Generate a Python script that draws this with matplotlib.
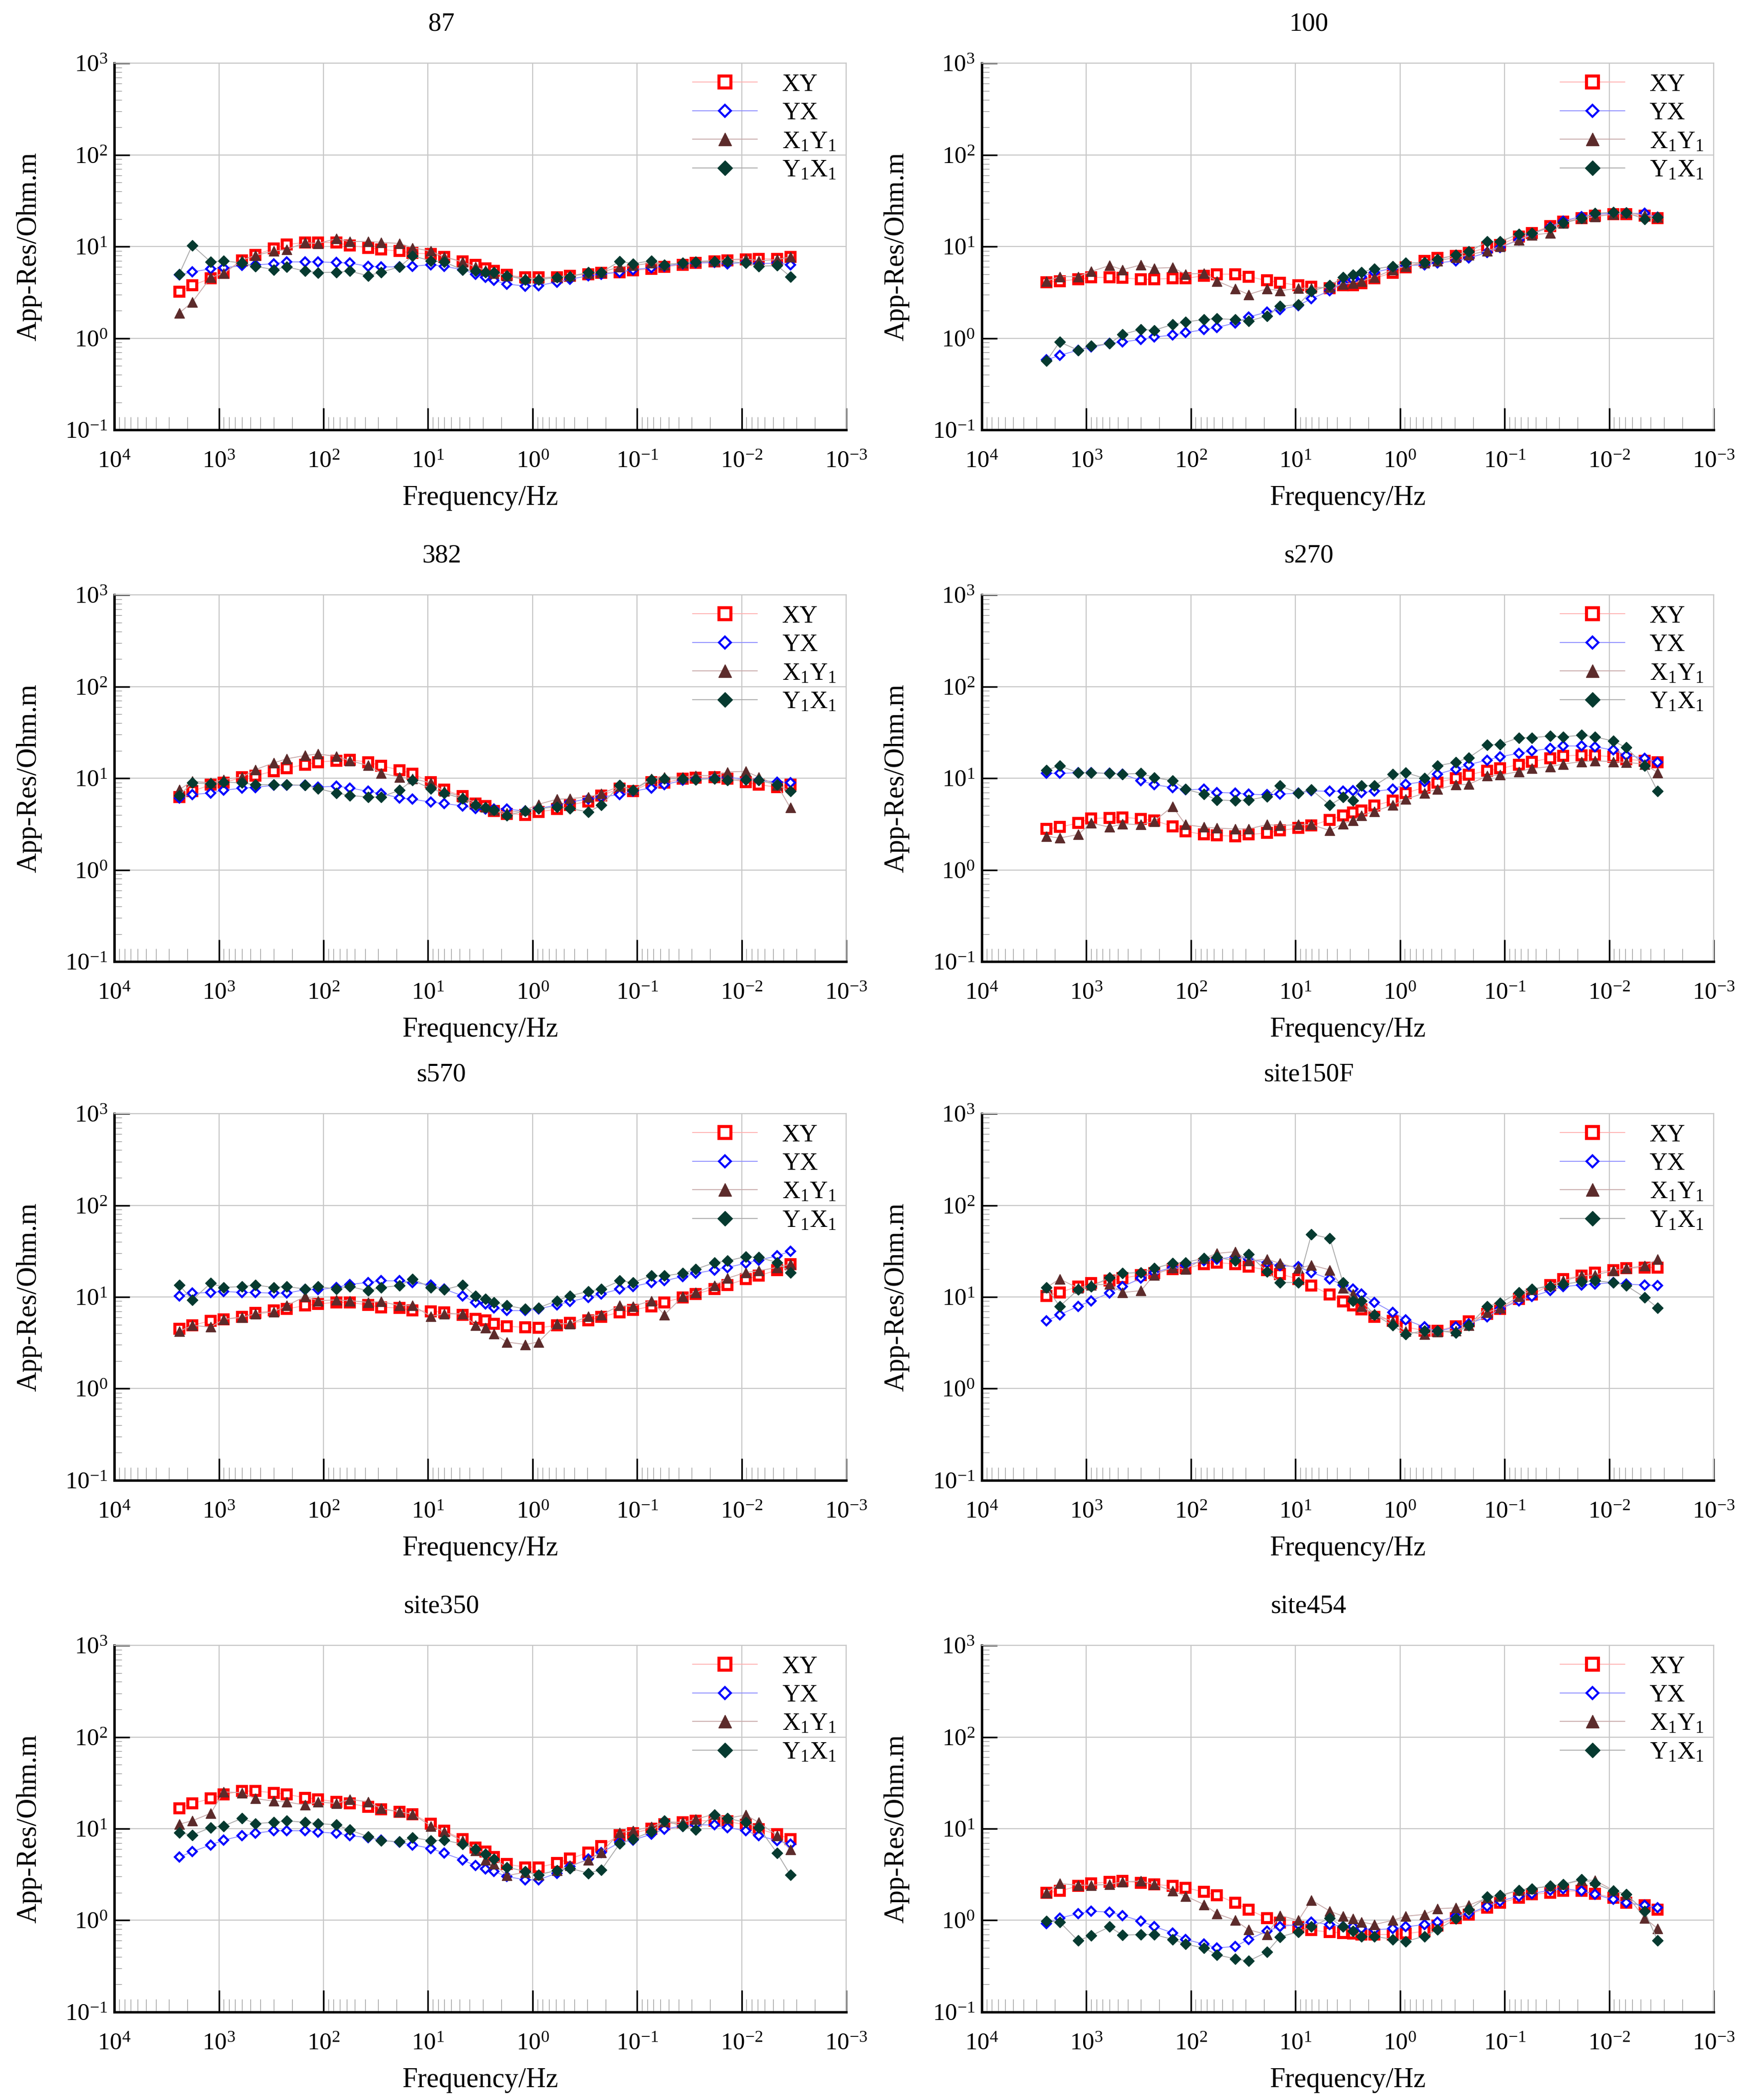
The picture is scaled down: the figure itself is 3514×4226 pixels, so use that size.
import matplotlib
matplotlib.use("Agg")
import matplotlib.pyplot as plt
from matplotlib.ticker import LogLocator, LogFormatterSciNotation, NullFormatter

plt.rcParams['font.family'] = ['Liberation Serif', 'DejaVu Serif']
plt.rcParams['mathtext.fontset'] = 'custom'
plt.rcParams['mathtext.rm'] = 'Liberation Serif'
plt.rcParams['mathtext.it'] = 'Liberation Serif:italic'
plt.rcParams['mathtext.bf'] = 'Liberation Serif:bold'

# frequencies (Hz), same for every site
freq = [2400, 1800, 1200, 900, 600, 450, 300, 225, 150, 112.5, 75, 56.25, 37.5, 28.13,
        18.75, 14.06, 9.375, 7.031, 4.688, 3.516, 2.813, 2.344, 1.758, 1.172, 0.8789,
        0.5859, 0.4395, 0.293, 0.2197, 0.1465, 0.1099, 0.07324, 0.05493, 0.03662,
        0.02747, 0.01831, 0.01373, 0.009155, 0.006866, 0.004578, 0.003433]

# site 87
xy_87 = [3.2, 3.76, 4.5, 5.2, 7.1, 8.1, 9.5, 10.5, 11.1, 11.1, 11.0, 10.3, 9.7, 9.3, 8.9, 8.5, 8.3, 7.7, 6.9, 6.3, 5.8,
         5.4, 4.9, 4.6, 4.6, 4.6, 4.8, 5.0, 5.15, 5.25, 5.5, 5.7, 6.0, 6.35, 6.6, 6.9, 7.1, 7.2, 7.35, 7.35, 7.7]
yx_87 = [4.9, 5.3, 5.7, 5.85, 6.2, 6.3, 6.5, 6.8, 6.8, 6.8, 6.7, 6.6, 6.1, 6.0, 6.0, 6.1, 6.35, 6.1, 5.6, 5.0, 4.6,
         4.26, 3.9, 3.7, 3.75, 4.1, 4.4, 4.8, 5.0, 5.25, 5.6, 5.85, 6.1, 6.5, 6.6, 6.7, 6.5, 6.7, 6.5, 6.6, 6.35]
x1y1_87 = [1.88, 2.47, 4.6, 5.1, 7.1, 8.0, 8.9, 9.3, 11.0, 10.8, 12.2, 11.3, 11.4, 11.1, 10.8, 9.7, 8.9, 7.7, 6.8, 6.0,
           5.5, 5.1, 4.8, 4.5, 4.5, 4.7, 4.8, 5.1, 5.25, 6.0, 6.2, 6.6, 6.35, 6.6, 6.9, 7.0, 7.2, 7.35, 7.0, 7.2, 7.7]
y1x1_87 = [5.0, 10.3, 6.8, 7.0, 6.6, 6.1, 5.6, 6.0, 5.4, 5.2, 5.25, 5.4, 4.8, 5.25, 6.0, 7.9, 7.0, 6.8, 5.6, 5.4, 5.25,
           5.25, 4.8, 4.35, 4.35, 4.6, 4.7, 5.25, 5.25, 6.9, 6.5, 7.0, 6.35, 6.6, 6.8, 6.9, 6.9, 6.6, 6.1, 6.2, 4.7]

# site 100
xy_100 = [4.1, 4.2, 4.4, 4.6, 4.6, 4.55, 4.4, 4.4, 4.5, 4.5, 4.8, 5.0, 5.0, 4.7, 4.26, 4.05, 3.76, 3.65, 3.53, 3.76,
          3.8, 4.0, 4.5, 5.2, 5.9, 7.0, 7.5, 7.9, 8.5, 9.8, 10.4, 12.9, 14.0, 16.8, 18.8, 20.3, 21.6, 22.5, 22.5, 21.6, 20.3]
yx_100 = [0.58, 0.65, 0.74, 0.8, 0.875, 0.91, 0.97, 1.03, 1.08, 1.15, 1.24, 1.31, 1.47, 1.7, 1.93, 2.05, 2.28, 2.7,
          3.3, 4.0, 4.35, 4.7, 5.25, 5.8, 6.2, 6.3, 6.6, 7.0, 7.5, 8.6, 9.8, 11.8, 13.7, 16.4, 19.0, 21.3, 22.5, 23.0,
          23.0, 23.0, 20.8]
x1y1_100 = [4.2, 4.7, 4.7, 5.35, 6.2, 5.6, 6.3, 5.8, 5.9, 5.0, 5.1, 4.2, 3.46, 3.0, 3.46, 3.3, 3.5, 3.5, 3.6, 3.9,
            4.0, 4.2, 4.6, 5.6, 6.1, 6.6, 7.0, 7.6, 8.1, 9.0, 10.0, 11.8, 13.4, 14.0, 17.9, 20.3, 21.2, 22.5, 23.5,
            22.0, 20.8]
y1x1_100 = [0.565, 0.91, 0.74, 0.82, 0.875, 1.1, 1.25, 1.22, 1.41, 1.5, 1.6, 1.63, 1.6, 1.54, 1.74, 2.23, 2.33, 3.25,
            3.76, 4.6, 4.9, 5.25, 5.7, 6.1, 6.6, 6.7, 7.2, 8.1, 8.8, 11.3, 11.3, 13.7, 14.0, 16.1, 18.2, 20.3, 23.0,
            23.7, 23.5, 19.9, 20.8]

# site 382
xy_382 = [6.25, 7.2, 8.5, 8.9, 10.3, 10.7, 11.9, 12.9, 14.1, 15.0, 15.6, 15.9, 15.0, 13.7, 12.3, 11.2, 9.1, 7.5, 6.4,
          5.3, 5.0, 4.4, 4.1, 4.0, 4.3, 4.6, 5.1, 5.6, 6.5, 7.7, 7.2, 9.1, 8.9, 9.9, 10.1, 10.3, 9.9, 9.1, 8.5, 8.0, 8.5]
yx_382 = [6.1, 6.65, 6.9, 7.4, 7.8, 7.95, 8.4, 8.4, 8.4, 8.0, 8.2, 7.85, 7.2, 6.8, 6.1, 5.9, 5.5, 5.3, 5.0, 4.67, 4.6,
          4.6, 4.6, 4.4, 4.67, 5.1, 5.5, 5.95, 6.25, 6.65, 7.2, 7.85, 8.5, 9.5, 9.8, 10.0, 10.3, 9.7, 9.5, 9.1, 9.0]
x1y1_382 = [7.5, 9.3, 8.9, 9.7, 10.3, 12.4, 14.7, 16.3, 17.7, 18.4, 17.3, 15.6, 13.8, 11.4, 10.3, 9.9, 8.9, 7.2, 6.25,
            5.4, 4.87, 4.5, 4.2, 4.5, 5.2, 5.9, 6.0, 6.25, 6.8, 8.2, 7.5, 9.9, 10.3, 10.3, 10.7, 10.7, 11.7, 11.9,
            10.3, 8.4, 4.77]
y1x1_382 = [6.5, 8.9, 8.7, 9.1, 8.9, 8.5, 8.5, 8.5, 8.4, 7.7, 6.9, 6.5, 6.25, 6.25, 7.4, 9.5, 7.7, 6.9, 6.0, 5.1, 4.77,
            4.5, 3.95, 4.4, 4.67, 4.87, 4.67, 4.3, 5.1, 8.4, 7.4, 9.7, 9.9, 9.9, 9.7, 9.9, 9.5, 9.7, 9.5, 8.5, 7.2]

# site s270
xy_s270 = [2.79, 2.93, 3.25, 3.64, 3.7, 3.76, 3.6, 3.46, 3.0, 2.64, 2.43, 2.38, 2.33, 2.43, 2.53, 2.69, 2.86, 3.05,
           3.53, 3.92, 4.23, 4.44, 5.03, 5.7, 6.9, 7.95, 9.0, 10.0, 10.9, 12.1, 12.8, 14.1, 15.2, 16.5, 17.5, 17.9,
           17.7, 17.2, 16.1, 15.5, 14.9]
yx_s270 = [11.3, 11.3, 11.5, 11.5, 11.3, 11.1, 9.4, 8.5, 7.95, 7.5, 7.6, 7.0, 6.9, 6.7, 6.6, 6.7, 6.9, 7.3, 7.2, 7.2,
           7.3, 7.0, 7.2, 7.6, 8.6, 9.2, 11.1, 12.6, 14.1, 15.8, 17.2, 18.7, 19.9, 21.1, 22.5, 22.5, 22.1, 20.3, 17.9,
           16.5, 14.9]
x1y1_s270 = [2.33, 2.23, 2.43, 3.25, 2.93, 3.18, 3.12, 3.39, 4.93, 3.12, 2.93, 2.86, 2.8, 2.8, 3.12, 3.05, 3.12, 3.12,
             2.69, 3.18, 3.46, 3.92, 4.35, 5.1, 5.9, 6.9, 7.6, 8.5, 8.6, 10.6, 10.9, 11.8, 12.8, 13.4, 14.3, 15.2,
             15.5, 15.2, 14.9, 14.3, 11.5]
y1x1_s270 = [12.3, 13.7, 11.5, 11.5, 11.3, 11.1, 11.3, 10.2, 9.4, 7.6, 6.7, 5.8, 5.7, 5.8, 6.3, 8.3, 6.9, 7.5, 5.1,
             6.2, 5.7, 8.3, 8.3, 11.1, 11.5, 10.0, 13.7, 14.9, 16.8, 23.0, 23.5, 27.7, 27.7, 28.9, 28.3, 29.5, 28.3,
             25.5, 21.6, 13.7, 7.2]

# site s570
xy_s570 = [4.5, 4.9, 5.5, 5.7, 6.1, 6.7, 7.1, 7.4, 8.05, 8.4, 8.75, 8.7, 8.2, 7.7, 7.6, 7.1, 7.0, 6.8, 6.4, 5.8, 5.55,
           5.1, 4.8, 4.65, 4.6, 4.9, 5.2, 5.55, 6.1, 6.8, 7.2, 7.9, 8.75, 9.9, 10.8, 12.2, 13.5, 15.7, 17.0, 19.7, 22.8]
yx_s570 = [10.3, 11.0, 11.2, 11.5, 11.2, 11.2, 11.0, 11.0, 12.0, 12.0, 12.7, 13.7, 14.4, 15.0, 15.0, 14.4, 13.5, 12.2,
           10.3, 8.75, 8.4, 7.6, 7.1, 7.1, 7.4, 8.2, 8.9, 9.9, 10.8, 12.2, 13.0, 14.4, 15.0, 16.7, 18.1, 19.7, 21.0,
           23.3, 25.3, 28.0, 31.6]
x1y1_s570 = [4.2, 4.9, 4.7, 5.7, 6.0, 6.55, 6.9, 8.05, 10.1, 9.1, 9.3, 9.1, 8.75, 8.9, 8.05, 8.05, 6.15, 6.55, 6.55,
             4.9, 4.6, 3.97, 3.22, 3.03, 3.22, 5.1, 5.1, 6.15, 6.4, 8.05, 7.9, 9.1, 6.4, 10.1, 11.2, 13.3, 16.0, 18.5,
             19.3, 21.0, 22.8]
y1x1_s570 = [13.5, 9.3, 14.1, 12.7, 13.0, 13.5, 12.7, 13.0, 12.2, 13.0, 12.2, 13.0, 11.7, 12.7, 13.3, 15.7, 12.7, 12.0,
             13.5, 10.3, 9.5, 8.75, 8.05, 7.4, 7.6, 9.1, 10.3, 11.5, 12.2, 15.0, 14.4, 17.0, 17.0, 18.1, 20.1, 23.6,
             24.8, 27.5, 27.0, 23.8, 18.5]

# site150F
xy_150 = [10.3, 11.2, 13.0, 14.1, 15.0, 16.0, 17.4, 18.1, 20.1, 20.5, 22.8, 23.8, 22.8, 21.4, 19.7, 17.8, 15.7, 13.3,
          10.6, 8.9, 8.05, 7.3, 6.1, 5.5, 4.7, 4.3, 4.3, 4.8, 5.4, 6.5, 7.4, 9.5, 10.6, 13.5, 15.7, 17.0, 18.5, 19.7,
          20.5, 21.0, 21.0]
yx_150 = [5.5, 6.4, 7.9, 9.1, 11.1, 13.0, 16.0, 18.5, 21.0, 22.3, 24.8, 25.8, 27.5, 25.8, 23.8, 21.9, 21.4, 18.5, 15.7,
          13.5, 12.2, 10.8, 8.75, 6.8, 5.65, 4.7, 4.2, 4.7, 5.1, 6.1, 7.4, 9.1, 10.1, 11.7, 13.0, 13.5, 13.8, 14.4,
          13.8, 13.5, 13.3]
x1y1_150 = [12.7, 15.7, 12.5, 13.5, 13.8, 11.2, 11.7, 17.4, 21.0, 20.1, 26.4, 29.9, 31.2, 24.8, 25.8, 23.3, 20.5, 22.3,
            19.7, 12.5, 10.8, 7.9, 6.5, 5.4, 4.2, 3.9, 4.15, 4.3, 4.9, 6.8, 7.6, 10.1, 12.0, 13.5, 15.0, 17.0, 17.4,
            19.3, 20.5, 21.9, 25.8]
y1x1_150 = [12.7, 7.9, 12.0, 13.0, 16.3, 18.1, 18.5, 20.5, 23.3, 23.8, 26.4, 27.0, 24.8, 29.3, 18.9, 14.4, 14.4, 48.3,
            43.5, 14.4, 9.1, 9.1, 6.4, 4.9, 3.9, 4.3, 4.3, 4.05, 4.9, 7.9, 8.6, 11.2, 12.2, 13.0, 13.8, 14.7, 15.0,
            14.4, 13.3, 9.9, 7.6]

# site350
xy_350 = [16.6, 18.8, 21.3, 23.7, 25.7, 25.7, 24.7, 23.7, 21.8, 20.9, 19.6, 18.8, 17.3, 16.3, 15.3, 14.4, 11.4, 9.5,
          7.7, 6.25, 5.6, 4.9, 4.1, 3.8, 3.8, 4.2, 4.7, 5.5, 6.5, 8.5, 8.9, 10.0, 11.2, 11.7, 12.2, 12.2, 12.0, 11.0,
          9.9, 8.7, 7.7]
yx_350 = [4.9, 5.6, 6.65, 7.5, 8.4, 8.9, 9.5, 9.5, 9.5, 9.2, 8.9, 8.4, 8.0, 7.5, 7.1, 6.65, 6.1, 5.4, 4.57, 3.95, 3.64,
          3.42, 3.0, 2.77, 2.77, 3.27, 3.87, 4.67, 5.5, 7.1, 7.5, 8.7, 9.9, 10.7, 11.0, 11.0, 10.3, 9.5, 8.4, 7.4, 6.8]
x1y1_350 = [11.2, 12.2, 14.7, 25.2, 24.7, 21.3, 20.0, 19.6, 18.1, 19.6, 18.8, 20.9, 19.6, 16.6, 15.3, 14.4, 10.7, 9.3,
            7.4, 5.75, 4.57, 4.1, 3.08, 3.35, 3.15, 3.5, 3.95, 4.57, 5.5, 9.1, 9.5, 10.5, 11.9, 11.7, 12.7, 14.4, 13.0,
            14.1, 11.7, 8.4, 5.9]
y1x1_350 = [9.1, 8.5, 10.3, 10.7, 13.0, 11.4, 11.7, 12.2, 11.7, 11.4, 11.0, 9.7, 8.2, 7.4, 7.2, 8.0, 7.4, 7.5, 6.8, 6.0,
            5.3, 4.67, 3.8, 3.42, 3.15, 3.5, 3.7, 3.27, 3.56, 6.9, 7.7, 9.3, 12.2, 10.7, 9.7, 14.1, 13.0, 11.7, 10.3,
            5.4, 3.15]

# site454
xy_454 = [2.0, 2.09, 2.37, 2.52, 2.63, 2.68, 2.57, 2.47, 2.37, 2.27, 2.04, 1.88, 1.55, 1.31, 1.06, 0.94, 0.845, 0.78,
          0.745, 0.73, 0.715, 0.70, 0.70, 0.70, 0.715, 0.76, 0.88, 1.06, 1.16, 1.37, 1.55, 1.76, 1.92, 2.0, 2.09, 2.09,
          1.96, 1.76, 1.55, 1.46, 1.31]
yx_454 = [0.92, 1.06, 1.18, 1.26, 1.23, 1.13, 0.98, 0.86, 0.73, 0.62, 0.55, 0.5, 0.52, 0.62, 0.76, 0.86, 0.9, 0.96,
          0.9, 0.86, 0.85, 0.81, 0.79, 0.81, 0.85, 0.9, 0.96, 1.11, 1.18, 1.43, 1.62, 1.84, 1.96, 2.13, 2.22, 2.09,
          1.92, 1.69, 1.55, 1.46, 1.37]
x1y1_454 = [2.0, 2.52, 2.42, 2.42, 2.47, 2.63, 2.68, 2.47, 2.09, 1.84, 1.49, 1.18, 1.0, 0.79, 0.70, 1.13, 1.0, 1.66,
            1.26, 1.11, 1.04, 0.96, 0.9, 1.0, 1.11, 1.16, 1.34, 1.37, 1.46, 1.76, 1.84, 2.13, 2.22, 2.37, 2.47, 2.74,
            2.74, 2.13, 1.92, 1.06, 0.81]
y1x1_454 = [0.98, 0.96, 0.6, 0.68, 0.85, 0.69, 0.7, 0.7, 0.62, 0.55, 0.5, 0.42, 0.38, 0.36, 0.45, 0.66, 0.75, 0.85,
            1.06, 0.85, 0.76, 0.67, 0.67, 0.62, 0.59, 0.67, 0.79, 1.04, 1.31, 1.8, 1.88, 2.13, 2.22, 2.37, 2.47, 2.8,
            2.52, 2.09, 1.92, 1.26, 0.6]

sites = [
    ("87", xy_87, yx_87, x1y1_87, y1x1_87),
    ("100", xy_100, yx_100, x1y1_100, y1x1_100),
    ("382", xy_382, yx_382, x1y1_382, y1x1_382),
    ("s270", xy_s270, yx_s270, x1y1_s270, y1x1_s270),
    ("s570", xy_s570, yx_s570, x1y1_s570, y1x1_s570),
    ("site150F", xy_150, yx_150, x1y1_150, y1x1_150),
    ("site350", xy_350, yx_350, x1y1_350, y1x1_350),
    ("site454", xy_454, yx_454, x1y1_454, y1x1_454),
]

labels = ["XY", "YX", "X$_1$Y$_1$", "Y$_1$X$_1$"]

fig = plt.figure(figsize=(35.14, 42.26), dpi=100)

lefts = [0.0655, 0.5623]
bottoms = [0.7953, 0.5421, 0.2951, 0.0419]
w, h = 0.4192, 0.1746

for i, (name, xy, yx, x1y1, y1x1) in enumerate(sites):
    ax = fig.add_axes([lefts[i % 2], bottoms[i // 2], w, h])
    ax.set_axisbelow(True)

    # XY - open red squares
    ax.plot(freq, xy, color='#ffb0b0', lw=1.3, marker='s', ms=12.5, mew=4.5,
            mec='#ff0000', mfc='white', label=labels[0], zorder=3)
    # YX - open blue diamonds
    ax.plot(freq, yx, color='#8c8cff', lw=1.3, marker='D', ms=9.2, mew=3.0,
            mec='#0000ff', mfc='white', label=labels[1], zorder=3)
    # X1Y1 - filled brown triangles
    ax.plot(freq, x1y1, color='#c8aaaa', lw=1.3, marker='^', ms=14, mew=1,
            mec='#5c2b2b', mfc='#5c2b2b', label=labels[2], zorder=3)
    # Y1X1 - filled dark diamonds
    ax.plot(freq, y1x1, color='#aaaaaa', lw=1.3, marker='D', ms=11.5, mew=1,
            mec='#063a30', mfc='#063a30', label=labels[3], zorder=3)

    ax.set_xscale('log')
    ax.set_yscale('log')
    ax.set_xlim(1e4, 1e-3)
    ax.set_ylim(1e-1, 1e3)

    ax.xaxis.set_major_locator(LogLocator(base=10, numticks=20))
    ax.xaxis.set_minor_locator(LogLocator(base=10, subs=range(2, 10), numticks=20))
    ax.yaxis.set_major_locator(LogLocator(base=10, numticks=20))
    ax.yaxis.set_minor_locator(LogLocator(base=10, subs=range(2, 10), numticks=20))
    ax.xaxis.set_major_formatter(LogFormatterSciNotation())
    ax.yaxis.set_major_formatter(LogFormatterSciNotation())
    ax.xaxis.set_minor_formatter(NullFormatter())
    ax.yaxis.set_minor_formatter(NullFormatter())

    ax.grid(True, which='major', color='#c8c8c8', lw=1.6)

    ax.tick_params(axis='x', which='major', direction='in', length=32, width=2.4,
                   color='black', pad=30, labelsize=35, top=False)
    ax.tick_params(axis='y', which='major', direction='in', length=22, width=2.4,
                   color='black', pad=10, labelsize=35, right=False)
    ax.tick_params(axis='x', which='minor', direction='in', length=19, width=1.0,
                   color='#999999', top=False)
    ax.tick_params(axis='y', which='minor', direction='in', length=11, width=1.0,
                   color='#999999', right=False)

    for side in ['left', 'bottom']:
        ax.spines[side].set_linewidth(3.5)
        ax.spines[side].set_color('black')
    for side in ['top', 'right']:
        ax.spines[side].set_linewidth(1.6)
        ax.spines[side].set_color('#c8c8c8')

    ax.set_xlabel("Frequency/Hz", fontsize=40)
    ax.set_ylabel("App-Res/Ohm.m", fontsize=40)
    ax.xaxis.set_label_coords(0.5, -0.150)
    ax.yaxis.set_label_coords(-0.099, 0.5)

    # site name, sitting a little left of the axes centre as in the source figure
    ax.text(0.447, 1.107, name, transform=ax.transAxes, ha='center', va='center', fontsize=38)

    ax.legend(loc='upper right', bbox_to_anchor=(1.0, 1.0), frameon=False, fontsize=36,
              markerscale=1.35, handlelength=2.6, handletextpad=1.0, labelspacing=0.22,
              borderaxespad=0.3, borderpad=0.1)

fig.savefig('out.png', dpi=100)
